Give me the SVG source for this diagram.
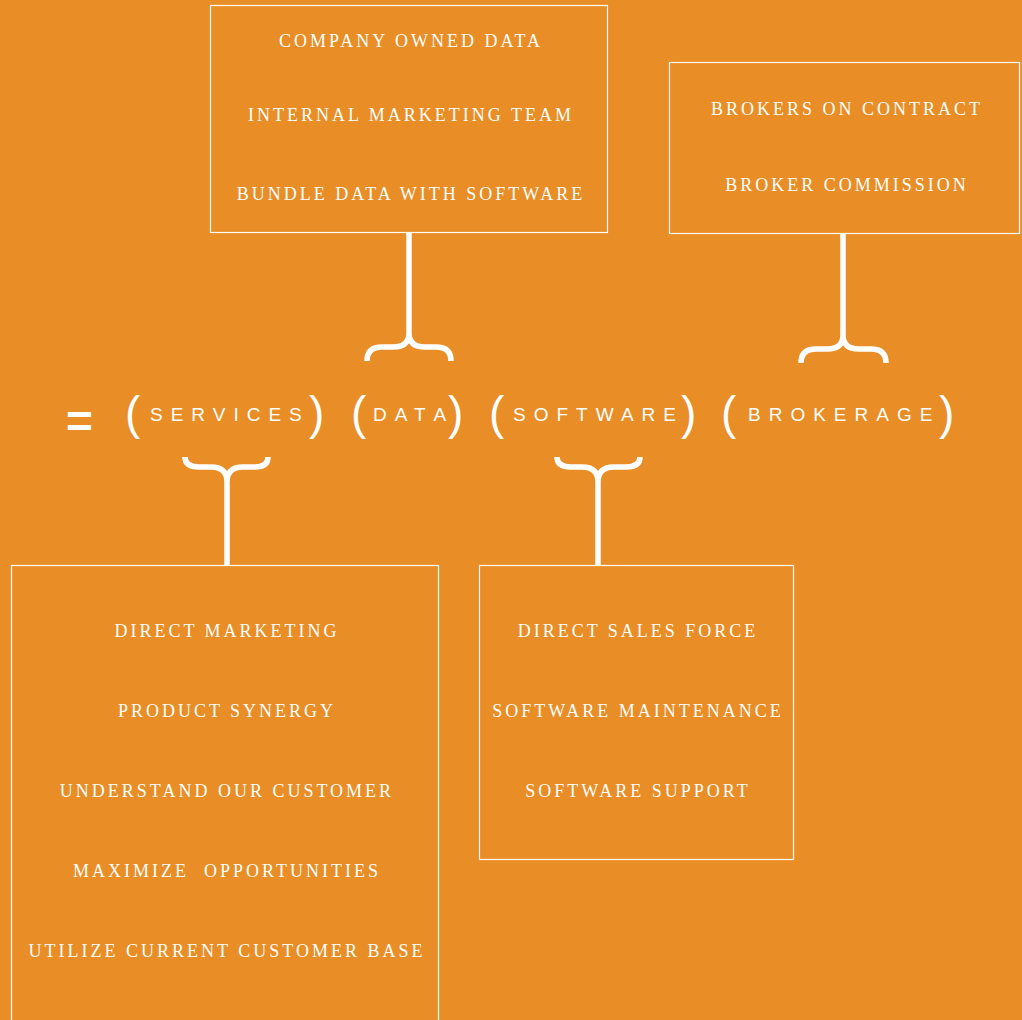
<svg xmlns="http://www.w3.org/2000/svg" width="1022" height="1020" viewBox="0 0 1022 1020">
<style>
.box{fill:none;stroke:#fff;stroke-width:1.2}
.t{font-family:"Liberation Serif",serif;font-size:18px;letter-spacing:3px;fill:#fff;text-anchor:middle;white-space:pre}
.m{font-family:"Liberation Sans",sans-serif;font-size:19px;letter-spacing:8px;fill:#fff}
.p{font-family:"Liberation Sans",sans-serif;font-size:46px;fill:#fff}
.br{fill:none;stroke:#fff;stroke-width:5.5}
.e{font-family:"Liberation Sans",sans-serif;font-size:46px;font-weight:bold;fill:#fff}
.z{letter-spacing:0}
</style>
<rect x="0" y="0" width="1022" height="1020" fill="#E98D26"/>
<g id="connectors">
<path class="br" d="M409 233 V333 Q409 347 393 347 H382 Q367 347 367 361 M409 333 Q409 347 425 347 H436 Q451 347 451 361"/>
<path class="br" d="M843 234 V335 Q843 349 827 349 H816 Q801 349 801 363 M843 335 Q843 349 859 349 H871 Q886 349 886 363"/>
<path class="br" d="M227 565 V482 Q227 467 211 467 H199 Q185 467 185 457 M227 482 Q227 467 243 467 H255 Q268 467 268 457"/>
<path class="br" d="M598 565 V482 Q598 467 582 467 H571 Q557 467 557 457 M598 482 Q598 467 614 467 H626 Q640 467 640 457"/>
</g>
<g id="node-data-top">
<rect class="box" x="210.5" y="5.5" width="397" height="227"/>
<text class="t" x="411" y="47">COMPANY OWNED DATA</text>
<text class="t" x="411" y="121">INTERNAL MARKETING TEAM</text>
<text class="t" x="411" y="200">BUNDLE DATA WITH SOFTWARE</text>
</g>
<g id="node-brokerage-top">
<rect class="box" x="669.5" y="62.5" width="350" height="171"/>
<text class="t" x="847" y="115">BROKERS ON CONTRACT</text>
<text class="t" x="847" y="191">BROKER COMMISSION</text>
</g>
<g id="node-equation">
<text class="e" x="66" y="437">=</text>
<text class="p" x="125" y="429">(</text>
<text class="m" x="150" y="421">SERVICE<tspan class="z">S</tspan></text>
<text class="p" x="309" y="429">)</text>
<text class="p" x="351" y="429">(</text>
<text class="m" x="373" y="421">DAT<tspan class="z">A</tspan></text>
<text class="p" x="448" y="429">)</text>
<text class="p" x="489" y="429">(</text>
<text class="m" x="513" y="421">SOFTWAR<tspan class="z">E</tspan></text>
<text class="p" x="681" y="429">)</text>
<text class="p" x="721" y="429">(</text>
<text class="m" x="748" y="421">BROKERAG<tspan class="z">E</tspan></text>
<text class="p" x="939" y="429">)</text>
</g>
<g id="node-services-bottom">
<rect class="box" x="11.5" y="565.5" width="427" height="470"/>
<text class="t" x="227" y="637">DIRECT MARKETING</text>
<text class="t" x="227" y="717">PRODUCT SYNERGY</text>
<text class="t" x="227" y="797">UNDERSTAND OUR CUSTOMER</text>
<text class="t" x="227" y="877">MAXIMIZE  OPPORTUNITIES</text>
<text class="t" x="227" y="957">UTILIZE CURRENT CUSTOMER BASE</text>
</g>
<g id="node-software-bottom">
<rect class="box" x="479.5" y="565.5" width="314" height="294"/>
<text class="t" x="638" y="637">DIRECT SALES FORCE</text>
<text class="t" x="638" y="717">SOFTWARE MAINTENANCE</text>
<text class="t" x="638" y="797">SOFTWARE SUPPORT</text>
</g>
</svg>
